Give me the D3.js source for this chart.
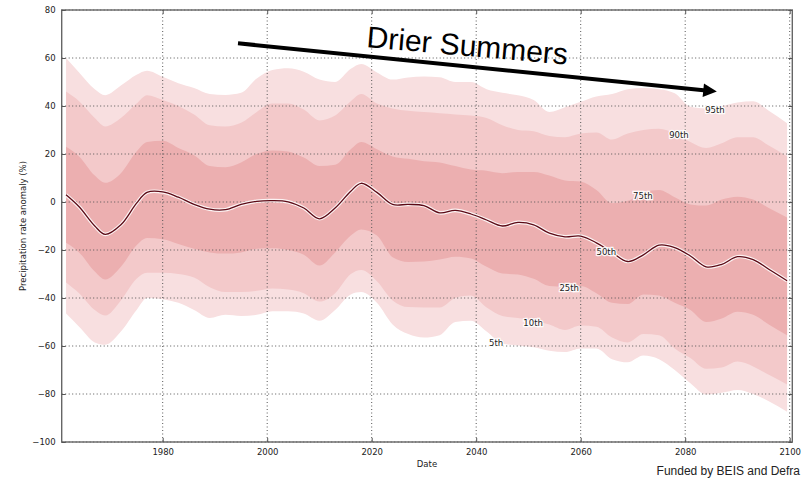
<!DOCTYPE html>
<html>
<head>
<meta charset="utf-8">
<script src="https://cdn.jsdelivr.net/npm/d3@7"></script>
<style>
  body { margin: 0; background: #fff; }
  text { font-family: "DejaVu Sans", sans-serif; }
</style>
</head>
<body>
<script>
// data (precipitation anomaly %, percentiles)
const years = [1961.5, 1964, 1967, 1969, 1972, 1975, 1977, 1980, 1983, 1986, 1989, 1992, 1995, 1998, 2001, 2004,
  2007, 2010, 2013, 2016, 2018, 2021, 2024, 2027, 2030, 2033, 2036, 2039, 2042, 2045, 2048, 2051,
  2054, 2057, 2060, 2063, 2066, 2069, 2072, 2075, 2078, 2081, 2084, 2087, 2090, 2093, 2096, 2099.5]
const p95 = [60, 54, 47, 44.5, 48.5, 53, 54.7, 52.2, 49.5, 47.5, 45, 44.6, 45.5, 51.5, 55, 55.7,
  54.3, 51, 50, 55.5, 57.5, 54, 51, 51.9, 52.3, 52, 50, 50, 47, 45.5, 44.5, 42.5,
  37.5, 39.5, 41.8, 44, 45, 47, 47.5, 47, 45.3, 39.7, 39, 40, 41.5, 42, 38, 32.8]
const p90 = [46, 42, 35, 31.5, 35, 41, 44.5, 42.5, 40, 36.5, 32, 31.5, 33, 37.5, 41, 41,
  38.5, 34, 36, 42, 45, 41, 39, 38, 37.5, 37, 36.5, 36, 35, 32, 30, 29.5,
  27.5, 27, 28.5, 29, 26, 28.5, 30, 30.5, 28.5, 25, 22.5, 24.5, 27, 27, 23.5, 19]
const p75 = [23, 19, 11, 8, 12, 21, 25, 25.5, 22.5, 19.5, 15, 14.5, 16.5, 20, 21.5, 21,
  18.5, 15, 15.5, 22, 25, 22, 19, 18, 17, 16.5, 15, 13.5, 13, 12, 12.5, 12.5,
  11, 9, 8.5, 5, -0.5, 0.5, 4, 5, 2, -1, -1.5, 1, 2.2, 1, -2.5, -6.5]
const p50 = [3, -2, -10, -13.5, -9.5, -0.5, 4, 4.2, 2, -1, -3, -3.2, -1, 0.3, 0.6, 0.1,
  -2.5, -7, -2.5, 4.5, 7.8, 4, -1, -1, -1.5, -4.5, -3.5, -5, -7.5, -10, -8.5, -9.5,
  -13, -14.5, -14.2, -17, -21, -24.8, -22, -18, -19, -22.5, -27, -26, -22.8, -24, -28, -32.8]
const p25 = [-17, -21, -29, -32.3, -27, -18, -15, -15.5, -17.5, -19.5, -21, -21.5, -21, -19.5, -19.3, -20,
  -22, -26.5, -21, -14, -11.5, -14, -23, -25, -24.8, -24, -22.8, -23.5, -27, -29.8, -30.2, -32,
  -35, -35.3, -35, -38, -42, -42.5, -38.5, -39, -42, -45, -50, -48.5, -45.7, -47, -51, -55.5]
const p10 = [-33.5, -38, -45, -47.3, -41, -32, -29.5, -29.5, -30, -31.5, -35.5, -37.5, -37.5, -37, -36, -36.5,
  -38, -41.5, -38, -30, -28.3, -33, -41, -43.8, -44, -44, -40, -39, -44, -47.5, -48.3, -49.5,
  -51, -53.3, -51.5, -52, -56.5, -58.5, -55, -55.5, -61, -65, -69.5, -69, -66.5, -68.5, -72, -76]
const p5 = [-46.5, -52, -58.5, -59.5, -54, -45, -40, -40.5, -42, -45, -48.3, -47, -47.5, -47, -45.5, -45.5,
  -46.5, -49.5, -45, -38.5, -37.5, -42, -51, -55, -56.5, -55.5, -50, -49.5, -54, -59, -59.8, -60.5,
  -62, -62.5, -61, -61, -65.5, -66.8, -64, -65.5, -70, -75.5, -80.2, -79.5, -78.3, -80, -83, -87.4]

// percentile labels sitting on the chart
const labelNames = ["95th", "90th", "75th", "50th", "25th", "10th", "5th"]
const labelYears = [2085.7, 2078.8, 2071.9, 2064.9, 2057.8, 2050.9, 2043.8]
const labelValues = [38.3, 27.9, 2.5, -20.7, -36, -50.5, -58.9]

const xTicks = [1980, 2000, 2020, 2040, 2060, 2080, 2100]
const yTicks = [-100, -80, -60, -40, -20, 0, 20, 40, 60, 80]

const W = 811, H = 480

const svg = d3.select("body").append("svg")
  .attr("width", W)
  .attr("height", H)

const x = d3.scaleLinear().domain([1960.67, 2100.5]).range([61.7, 792.3])
const y = d3.scaleLinear().domain([-100, 80]).range([442, 10])

const rows = years.map((yr, i) => ({
  yr, p5: p5[i], p10: p10[i], p25: p25[i], p50: p50[i], p75: p75[i], p90: p90[i], p95: p95[i]
}))

// bands
const bands = [
  { lo: "p5", hi: "p95", fill: "#f8dfe0" },
  { lo: "p10", hi: "p90", fill: "#f3c9ca" },
  { lo: "p25", hi: "p75", fill: "#ecafb0" }
]
bands.forEach(b => {
  const area = d3.area()
    .x(d => x(d.yr))
    .y0(d => y(d[b.lo]))
    .y1(d => y(d[b.hi]))
    .curve(d3.curveMonotoneX)
  svg.append("path")
    .datum(rows)
    .attr("d", area)
    .attr("fill", b.fill)
})

// grid, dotted
const grid = svg.append("g")
  .attr("stroke", "#555")
  .attr("stroke-width", 1)
  .attr("stroke-dasharray", "1,2.5")
xTicks.forEach(t => {
  grid.append("line").attr("x1", x(t)).attr("x2", x(t)).attr("y1", y(80)).attr("y2", y(-100))
})
yTicks.forEach(t => {
  grid.append("line").attr("x1", x.range()[0]).attr("x2", x.range()[1]).attr("y1", y(t)).attr("y2", y(t))
})

// median line with a pale halo
const line = d3.line()
  .x(d => x(d.yr))
  .y(d => y(d.p50))
  .curve(d3.curveCatmullRom.alpha(0.5))
svg.append("path")
  .datum(rows)
  .attr("d", line)
  .attr("fill", "none")
  .attr("stroke", "#fff")
  .attr("stroke-opacity", 0.85)
  .attr("stroke-width", 3.6)
svg.append("path")
  .datum(rows)
  .attr("d", line)
  .attr("fill", "none")
  .attr("stroke", "#5c0a16")
  .attr("stroke-width", 1.3)

// percentile labels
labelNames.forEach((name, i) => {
  svg.append("text")
    .attr("x", x(labelYears[i]))
    .attr("y", y(labelValues[i]))
    .attr("dy", "0.35em")
    .attr("text-anchor", "middle")
    .attr("font-size", "8.5px")
    .attr("fill", "#222")
    .attr("stroke", "#fff")
    .attr("stroke-width", 2.5)
    .attr("stroke-opacity", 0.9)
    .attr("paint-order", "stroke")
    .text(name)
})

// frame
const [x0, x1] = x.range()
const [yb, yt] = y.range()
svg.append("rect")
  .attr("x", x0).attr("y", yt)
  .attr("width", x1 - x0).attr("height", yb - yt)
  .attr("fill", "none")
  .attr("stroke", "#666")
  .attr("stroke-width", 1.4)

// axes, ticks pointing inward
const fmt = d3.format("d")
const xAxis = svg.append("g")
  .attr("transform", `translate(0, ${yb})`)
  .call(d3.axisBottom(x).tickValues(xTicks).tickSizeInner(-4).tickSizeOuter(0).tickPadding(7).tickFormat(fmt))
const xAxisTop = svg.append("g")
  .attr("transform", `translate(0, ${yt})`)
  .call(d3.axisTop(x).tickValues(xTicks).tickSizeInner(-4).tickSizeOuter(0).tickFormat(""))
const yAxis = svg.append("g")
  .attr("transform", `translate(${x0}, 0)`)
  .call(d3.axisLeft(y).tickValues(yTicks).tickSizeInner(-4).tickSizeOuter(0).tickPadding(6).tickFormat(d3.format("")))
const yAxisRight = svg.append("g")
  .attr("transform", `translate(${x1}, 0)`)
  .call(d3.axisRight(y).tickValues(yTicks).tickSizeInner(-4).tickSizeOuter(0).tickFormat(""))

;[xAxis, xAxisTop, yAxis, yAxisRight].forEach(a => {
  a.select(".domain").remove()
  a.selectAll(".tick line").attr("stroke", "#555")
  a.selectAll("text")
    .attr("font-family", "DejaVu Sans, sans-serif")
    .attr("font-size", "8.5px")
    .attr("fill", "#222")
})

// axis titles
svg.append("text")
  .attr("x", (x0 + x1) / 2 + 0)
  .attr("y", 467)
  .attr("text-anchor", "middle")
  .attr("font-size", "8.5px")
  .attr("fill", "#222")
  .text("Date")
svg.append("text")
  .attr("transform", `translate(26, ${(yb + yt) / 2}) rotate(-90)`)
  .attr("text-anchor", "middle")
  .attr("font-size", "8.5px")
  .attr("fill", "#222")
  .text("Precipitation rate anomaly (%)")

// annotation arrow
const defs = svg.append("defs")
defs.append("marker")
  .attr("id", "head")
  .attr("viewBox", "0 0 10 10")
  .attr("refX", 2).attr("refY", 5)
  .attr("markerWidth", 3.6).attr("markerHeight", 3.4)
  .attr("orient", "auto")
  .append("path")
  .attr("d", "M0,0 L10,5 L0,10 Z")
  .attr("fill", "#000")
svg.append("line")
  .attr("x1", 238).attr("y1", 43.3)
  .attr("x2", 706).attr("y2", 90.5)
  .attr("stroke", "#000")
  .attr("stroke-width", 4)
  .attr("marker-end", "url(#head)")

svg.append("text")
  .attr("transform", "translate(366, 47) rotate(5)")
  .style("font-family", "'Liberation Sans', Arial, sans-serif")
  .attr("font-size", "30px")
  .attr("fill", "#000")
  .text("Drier Summers")

svg.append("text")
  .attr("x", 800)
  .attr("y", 475)
  .attr("text-anchor", "end")
  .style("font-family", "'Liberation Sans', Arial, sans-serif")
  .attr("font-size", "12px")
  .attr("fill", "#222")
  .text("Funded by BEIS and Defra")
</script>
</body>
</html>
